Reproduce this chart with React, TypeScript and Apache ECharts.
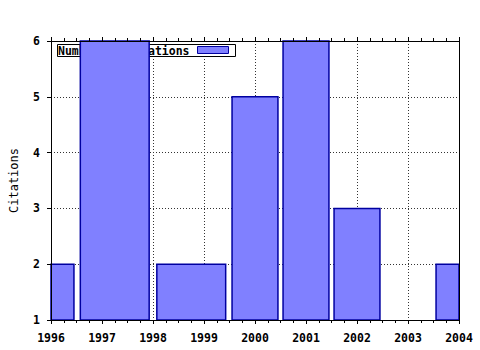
import React, { useEffect, useRef } from "react";
import * as echarts from "echarts";

const years = [1996, 1997, 1999, 2000, 2001, 2002, 2003, 2004];
const citations = [2, 6, 2, 5, 6, 3, 1, 2];
const seriesName = "Number of citations";
const yName = "Citations";
const xMin = 1996;
const xMax = 2004;
const yMin = 1;
const yMax = 6;

const FONT = "DejaVu Sans Mono";
const FILL = "#8080ff";
const EDGE = "#0000a0";
const BOX_REL = 0.9;

function boxExtent(i: number): [number, number] {
  const x = years[i];
  const prev = i > 0 ? years[i - 1] : null;
  const next = i < years.length - 1 ? years[i + 1] : null;
  const dl = prev != null ? (x - prev) / 2 : ((next as number) - x) / 2;
  const dr = next != null ? ((next as number) - x) / 2 : (x - (prev as number)) / 2;
  const center = x + (dr - dl) / 2;
  const w = (dl + dr) * BOX_REL;
  return [center - w / 2, center + w / 2];
}

export default function App() {
  const ref = useRef<HTMLDivElement>(null);
  useEffect(() => {
    if (!ref.current) return;
    const chart = echarts.init(ref.current, undefined, { renderer: "svg" });
    const data = years.map((y, i) => [y, citations[i]]);
    const gridLine = { show: true, lineStyle: { color: "#333", type: [1, 2], width: 1 } };
    const axisLine = { show: true, lineStyle: { color: "#000", width: 1 } };
    chart.setOption({
      animation: false,
      backgroundColor: "#fff",
      grid: { left: 50, right: 21, top: 41, bottom: 30, containLabel: false },
      xAxis: [
        {
          type: "value", position: "bottom", min: xMin, max: xMax, interval: 1, z: 3,
          axisLine,
          axisTick: { show: true, inside: false, length: 4, lineStyle: { color: "#000" } },
          minorTick: { show: true, splitNumber: 4, length: 3, lineStyle: { color: "#000" } },
          axisLabel: { margin: 12, color: "#000", fontFamily: FONT, fontWeight: "bold", fontSize: 11.5, formatter: (v: number) => String(v) },
          splitLine: { show: false },
        },
        {
          type: "value", position: "top", min: xMin, max: xMax, interval: 1, z: 3,
          axisLine,
          axisTick: { show: true, inside: false, length: 4, lineStyle: { color: "#000" } },
          minorTick: { show: true, splitNumber: 4, length: 3, lineStyle: { color: "#000" } },
          axisLabel: { show: false },
          splitLine: { show: false },
        },
        {
          type: "value", position: "bottom", min: xMin, max: xMax, interval: 1, z: 0,
          axisLine: { show: false }, axisTick: { show: false }, axisLabel: { show: false },
          splitLine: gridLine,
        },
      ],
      yAxis: [
        {
          type: "value", position: "left", min: yMin, max: yMax, interval: 1, z: 3,
          axisLine,
          axisTick: { show: true, inside: false, length: 4, lineStyle: { color: "#000" } },
          axisLabel: { margin: 11, color: "#000", fontFamily: FONT, fontWeight: "bold", fontSize: 11.5 },
          splitLine: { show: false },
          name: yName, nameLocation: "middle", nameRotate: 90, nameGap: 31,
          nameTextStyle: { color: "#000", fontFamily: FONT, fontSize: 12 },
        },
        {
          type: "value", position: "right", min: yMin, max: yMax, interval: 1, z: 3,
          axisLine, axisTick: { show: false }, axisLabel: { show: false }, splitLine: { show: false },
        },
        {
          type: "value", position: "left", min: yMin, max: yMax, interval: 1, z: 0,
          axisLine: { show: false }, axisTick: { show: false }, axisLabel: { show: false },
          splitLine: gridLine,
        },
      ],
      graphic: [
        { type: "rect", z: 1, shape: { x: 57.5, y: 44.5, width: 178, height: 12 }, style: { fill: "#fff", stroke: "#000", lineWidth: 1 } },
        { type: "text", z: 1, x: 58, y: 50.5, style: { text: seriesName, fill: "#000", font: `bold 11.5px ${FONT}`, verticalAlign: "middle", align: "left" } },
        { type: "rect", z: 1, shape: { x: 197.5, y: 46.5, width: 31, height: 7 }, style: { fill: FILL, stroke: EDGE, lineWidth: 1 } },
      ],
      series: [
        {
          type: "custom", name: seriesName, xAxisIndex: 0, yAxisIndex: 0, z: 2,
          data,
          renderItem: (params: any, api: any) => {
            const i = params.dataIndex;
            const v = api.value(1);
            const [x0, x1] = boxExtent(i);
            const p0 = api.coord([x0, v]);
            const p1 = api.coord([x1, 0]);
            const cs = params.coordSys;
            const r = echarts.graphic.clipRectByRect(
              { x: p0[0], y: p0[1], width: p1[0] - p0[0], height: p1[1] - p0[1] },
              { x: cs.x, y: cs.y, width: cs.width, height: cs.height }
            );
            if (!r || r.height <= 0.5 || r.width <= 0) return null;
            return {
              type: "rect",
              shape: r,
              style: { fill: FILL, stroke: EDGE, lineWidth: 1.5 },
            };
          },
        },
      ],
    });
    return () => chart.dispose();
  }, []);
  return <div ref={ref} style={{ width: 480, height: 350, position: "absolute", left: 0, top: 0 }} />;
}
